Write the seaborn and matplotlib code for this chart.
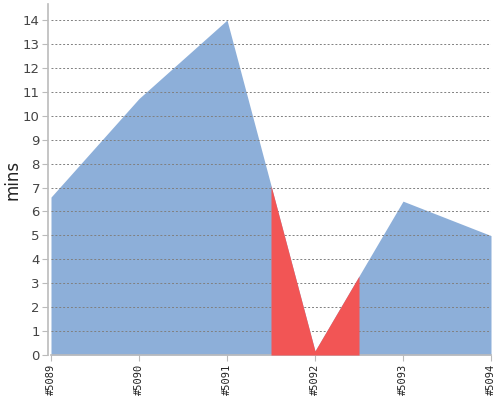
import matplotlib
matplotlib.use("Agg")
import matplotlib.pyplot as plt
import numpy as np
import pandas as pd
import seaborn as sns

# Build duration trend (minutes)
builds = ["#5089", "#5090", "#5091", "#5092", "#5093", "#5094"]
durations = [6.6, 10.72, 14.0, 0.17, 6.43, 4.99]
status = ["SUCCESS", "SUCCESS", "SUCCESS", "FAILURE", "SUCCESS", "SUCCESS"]

BLUE = "#8dafd9"
RED = "#f25555"

sns.set_style("white")

df = pd.DataFrame({"build": builds, "mins": durations, "status": status})
df["pos"] = np.arange(len(df))

fig = plt.figure(figsize=(5, 4), dpi=100)
ax = fig.add_axes([0.102, 0.1125, 0.88, 0.8775])

# base area
sns.lineplot(data=df, x="pos", y="mins", color=BLUE, linewidth=0, ax=ax)
ax.fill_between(df["pos"], df["mins"], color=BLUE, linewidth=0, zorder=2)

# failed builds drawn in red, half a step either side
for i in df.index[df["status"] == "FAILURE"]:
    xs = np.array([i - 0.5, i, i + 0.5])
    ys = np.interp(xs, df["pos"], df["mins"])
    ax.fill_between(xs, ys, color=RED, linewidth=0, zorder=3)

ax.set_xlim(0, len(df) - 1)
ax.set_ylim(0, 14.67)
ax.set_yticks(range(0, 15))
ax.set_xticks(df["pos"])
ax.set_xticklabels(df["build"], rotation=90, family="DejaVu Sans Mono",
                   fontsize=7.5, color="#222222")
ax.tick_params(axis="y", labelsize=9.5, labelcolor="#444444", length=4,
               color="#bbbbbb", left=True, pad=2)
ax.tick_params(axis="x", length=4, color="#bbbbbb", bottom=True, pad=2)

ax.yaxis.grid(True, linestyle=(0, (2, 2)), color="#808080", linewidth=0.7)
ax.set_axisbelow(False)
for line in ax.get_ygridlines():
    line.set_zorder(4)

for side in ["top", "right"]:
    ax.spines[side].set_visible(False)
for side in ["left", "bottom"]:
    ax.spines[side].set_color("#bbbbbb")
    ax.spines[side].set_linewidth(1.2)
ax.spines["left"].set_position(("outward", 2))

ax.set_xlabel("")
ax.set_ylabel("mins", fontsize=12, color="#222222")
ax.yaxis.set_label_coords(-0.068, 0.5)

fig.savefig("out.png", dpi=100)
